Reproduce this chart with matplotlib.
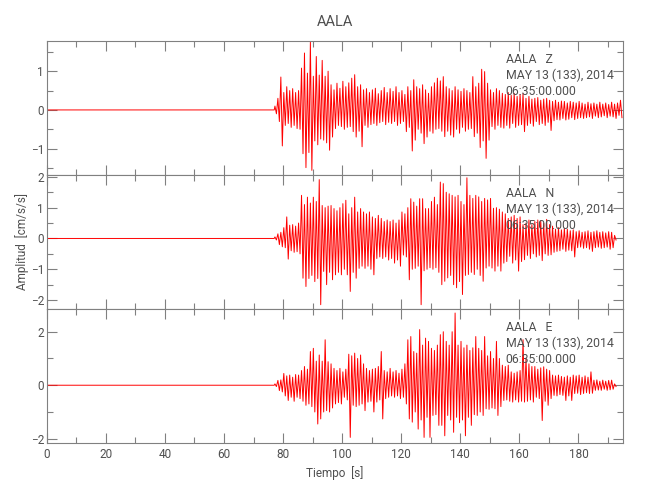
import numpy as np
import matplotlib.pyplot as plt
from matplotlib.ticker import MultipleLocator

plt.rcParams['font.family'] = ['Roboto', 'DejaVu Sans']

station = "AALA"
components = ["Z", "N", "E"]
date_label = "MAY 13 (133), 2014"
time_label = "06:35:00.000"
onset = 77  # s, first second with signal (before it the trace is ~0)

# peak / trough amplitude per second from the onset (cm/s/s)
z_max = [0.10, 0.30, 0.85, 0.45, 0.60, 0.50, 0.55, 0.45, 0.50, 1.08,
         1.47, 0.95, 1.75, 0.87, 1.38, 0.90, 1.28, 0.87, 1.00, 0.65,
         0.52, 0.69, 0.56, 0.74, 0.60, 0.70, 0.82, 0.91, 0.60, 0.65,
         0.52, 0.55, 0.45, 0.52, 0.56, 0.42, 0.50, 0.58, 0.45, 0.55,
         0.48, 0.60, 0.45, 0.50, 0.40, 0.60, 0.50, 0.78, 0.60, 0.55,
         0.65, 0.52, 0.43, 0.60, 0.70, 0.82, 0.75, 0.86, 0.60, 0.55,
         0.50, 0.60, 0.52, 0.48, 0.55, 0.50, 0.45, 0.86, 0.60, 0.69,
         1.05, 0.99, 0.69, 0.52, 0.45, 0.55, 0.50, 0.43, 0.40, 0.45,
         0.38, 0.43, 0.35, 0.40, 0.42, 0.30, 0.35, 0.28, 0.30, 0.32,
         0.25, 0.28, 0.30, 0.25, 0.22, 0.25, 0.20, 0.23, 0.22, 0.18,
         0.22, 0.20, 0.18, 0.22, 0.18, 0.15, 0.20, 0.16, 0.18, 0.15,
         0.20, 0.15, 0.18, 0.14, 0.20, 0.15, 0.18, 0.25]
z_min = [-0.10, -0.30, -0.93, -0.40, -0.35, -0.45, -0.40, -0.48, -0.50, -1.13,
         -1.49, -1.10, -1.56, -0.80, -0.90, -0.75, -0.78, -0.85, -1.04, -0.70,
         -0.48, -0.40, -0.43, -0.50, -0.45, -0.43, -0.56, -0.70, -0.55, -0.95,
         -0.40, -0.45, -0.38, -0.35, -0.40, -0.33, -0.30, -0.38, -0.32, -0.35,
         -0.30, -0.40, -0.35, -0.30, -0.56, -0.45, -1.06, -0.78, -0.50, -0.60,
         -0.87, -0.70, -0.55, -0.60, -0.50, -0.48, -0.55, -0.69, -0.55, -0.65,
         -0.70, -0.50, -0.60, -0.45, -0.55, -0.50, -0.48, -0.69, -0.60, -0.97,
         -0.80, -1.25, -0.78, -0.43, -0.50, -0.40, -0.45, -0.47, -0.40, -0.47,
         -0.35, -0.45, -0.40, -0.38, -0.56, -0.40, -0.35, -0.42, -0.30, -0.38,
         -0.35, -0.40, -0.32, -0.53, -0.28, -0.25, -0.26, -0.22, -0.26, -0.24,
         -0.20, -0.25, -0.22, -0.20, -0.22, -0.20, -0.18, -0.22, -0.16, -0.20,
         -0.18, -0.15, -0.20, -0.16, -0.18, -0.22, -0.14, -0.20]

n_max = [0.05, 0.15, 0.20, 0.35, 0.70, 0.43, 0.45, 0.40, 0.50, 1.40,
         1.10, 1.34, 1.15, 1.34, 1.20, 1.91, 1.07, 1.00, 1.05, 1.07,
         0.97, 0.90, 1.00, 1.13, 1.24, 0.80, 1.00, 1.34, 0.86, 0.97,
         0.86, 0.80, 0.86, 0.70, 0.65, 0.75, 0.65, 0.55, 0.60, 0.55,
         0.60, 0.50, 0.60, 0.86, 0.80, 1.00, 1.29, 1.18, 1.05, 1.29,
         1.29, 0.97, 0.97, 1.20, 1.34, 1.10, 1.83, 1.78, 1.50, 1.45,
         1.40, 1.35, 1.40, 1.20, 1.10, 1.97, 1.40, 1.30, 1.40, 1.35,
         1.20, 1.30, 1.25, 1.30, 0.98, 1.00, 0.95, 0.86, 0.80, 0.65,
         0.70, 0.75, 0.65, 0.70, 0.45, 0.50, 0.60, 0.45, 0.55, 0.60,
         0.58, 0.50, 0.62, 0.45, 0.40, 0.30, 0.35, 0.28, 0.32, 0.30,
         0.25, 0.28, 0.22, 0.25, 0.20, 0.22, 0.25, 0.20, 0.22, 0.25,
         0.20, 0.22, 0.18, 0.22, 0.20, 0.10]
n_min = [-0.05, -0.20, -0.27, -0.30, -0.67, -0.40, -0.45, -0.43, -0.50, -1.29,
         -1.56, -1.30, -1.20, -1.40, -1.30, -2.15, -1.07, -1.50, -1.10, -1.34,
         -1.18, -1.10, -1.18, -1.00, -1.18, -1.72, -1.10, -1.29, -0.97, -0.90,
         -0.97, -0.90, -1.00, -1.18, -0.65, -0.60, -0.65, -0.60, -0.70, -0.65,
         -0.80, -0.70, -0.90, -0.54, -0.60, -1.34, -1.00, -0.97, -0.90, -2.15,
         -1.05, -1.00, -0.95, -1.00, -0.95, -1.10, -1.50, -1.39, -1.28, -1.20,
         -1.50, -1.60, -1.40, -1.82, -1.20, -1.17, -1.10, -1.17, -1.00, -1.20,
         -1.39, -0.96, -0.90, -0.96, -1.06, -0.90, -1.06, -0.80, -0.75, -0.58,
         -0.80, -0.70, -1.06, -0.75, -0.69, -0.55, -0.65, -0.50, -0.60, -0.55,
         -0.72, -0.50, -0.55, -0.53, -0.45, -0.42, -0.40, -0.35, -0.42, -0.38,
         -0.40, -0.60, -0.30, -0.28, -0.32, -0.30, -0.35, -0.42, -0.30, -0.28,
         -0.32, -0.30, -0.28, -0.35, -0.30, -0.05]

e_max = [0.05, 0.18, 0.20, 0.44, 0.35, 0.38, 0.30, 0.40, 0.38, 0.55,
         0.70, 0.60, 1.26, 1.38, 0.90, 1.13, 0.90, 1.70, 0.88, 0.80,
         0.63, 0.55, 0.63, 0.50, 0.60, 1.16, 1.10, 1.20, 1.00, 1.13,
         0.80, 0.63, 0.55, 0.60, 0.63, 0.70, 1.26, 0.55, 0.50, 0.63,
         0.50, 0.55, 0.45, 0.60, 0.80, 1.70, 1.82, 1.26, 1.20, 2.08,
         1.50, 1.76, 1.64, 1.38, 1.30, 1.50, 1.89, 2.00, 1.64, 1.50,
         2.00, 2.70, 1.50, 1.64, 1.40, 1.50, 1.30, 1.40, 1.82, 1.38,
         1.30, 1.82, 1.10, 1.26, 1.00, 1.64, 1.00, 0.75, 0.70, 0.75,
         0.50, 0.45, 0.50, 0.55, 1.70, 1.00, 0.80, 0.70, 0.70, 0.60,
         0.65, 0.69, 0.60, 0.55, 0.38, 0.35, 0.38, 0.33, 0.30, 0.35,
         0.30, 0.38, 0.35, 0.38, 0.30, 0.35, 0.30, 0.50, 0.19, 0.20,
         0.15, 0.19, 0.15, 0.18, 0.19, 0.05]
e_min = [-0.05, -0.20, -0.25, -0.40, -0.57, -0.45, -0.60, -0.45, -0.50, -0.60,
         -0.75, -0.70, -0.80, -1.00, -1.45, -1.26, -1.00, -0.95, -1.00, -0.85,
         -0.70, -0.65, -0.70, -0.45, -0.55, -1.95, -0.75, -0.80, -0.75, -0.70,
         -0.95, -0.63, -0.60, -1.00, -0.63, -0.55, -1.26, -0.50, -0.45, -0.40,
         -0.45, -0.40, -0.50, -0.45, -0.70, -1.26, -1.38, -1.00, -1.64, -1.30,
         -1.95, -1.20, -1.95, -1.13, -1.10, -1.50, -1.50, -1.89, -1.13, -1.30,
         -1.76, -1.20, -1.40, -1.30, -1.89, -1.20, -1.50, -1.10, -1.13, -1.00,
         -1.13, -0.88, -0.90, -0.85, -0.88, -1.13, -0.80, -0.57, -0.55, -0.60,
         -0.63, -0.55, -0.63, -0.60, -0.63, -0.60, -0.55, -0.63, -0.45, -0.50,
         -1.32, -0.60, -0.75, -0.50, -0.38, -0.40, -0.35, -0.38, -0.57, -0.40,
         -0.57, -0.31, -0.30, -0.35, -0.31, -0.28, -0.31, -0.30, -0.19, -0.18,
         -0.19, -0.15, -0.19, -0.17, -0.15, -0.05]

peaks = [z_max, n_max, e_max]
troughs = [z_min, n_min, e_min]
ylims = [(-1.68, 1.78), (-2.29, 2.06), (-2.16, 2.85)]
ysteps = [1, 1, 2]

grey = "#808080"
text_grey = "#505050"


def trace(pk, tr):
    t = onset + np.arange(len(pk))
    tt = np.column_stack([t + 0.25, t + 0.75]).ravel()
    yy = np.column_stack([pk, tr]).ravel()
    return np.r_[0, onset, tt], np.r_[0, 0, yy]


fig, axes = plt.subplots(3, 1, figsize=(6.5, 5), dpi=100, sharex=True)
fig.subplots_adjust(left=0.072, right=0.958, bottom=0.114, top=0.918, hspace=0)

for ax, comp, pk, tr, lim, step in zip(axes, components, peaks, troughs, ylims, ysteps):
    t, y = trace(pk, tr)
    ax.plot(t, y, color="red", lw=0.7)
    ax.set_xlim(0, 195)
    ax.set_ylim(*lim)
    ax.yaxis.set_major_locator(MultipleLocator(step))
    ax.yaxis.set_minor_locator(MultipleLocator(step / 2))
    ax.xaxis.set_major_locator(MultipleLocator(20))
    ax.xaxis.set_minor_locator(MultipleLocator(10))
    ax.tick_params(which="both", direction="in", top=True, right=True,
                   colors=grey, labelcolor=text_grey, labelsize=8.5)
    ax.tick_params(axis="y", pad=2)
    ax.tick_params(which="major", length=7, width=0.8)
    ax.tick_params(which="minor", length=4, width=0.8)
    for s in ax.spines.values():
        s.set_color(grey)
        s.set_linewidth(0.8)
    ax.text(155.4, 0.91, f"{station}   {comp}\n{date_label}\n{time_label}",
            transform=ax.get_xaxis_transform(), va="top", ha="left",
            fontsize=8.8, color=text_grey, linespacing=1.25)

axes[0].set_title(station, fontsize=10.5, color=text_grey, pad=11)
axes[1].set_ylabel("Amplitud  [cm/s/s]", fontsize=8.5, color=text_grey, labelpad=1)
axes[2].set_xlabel("Tiempo  [s]", fontsize=8.5, color=text_grey, labelpad=4)

fig.savefig("out.png", dpi=100)
